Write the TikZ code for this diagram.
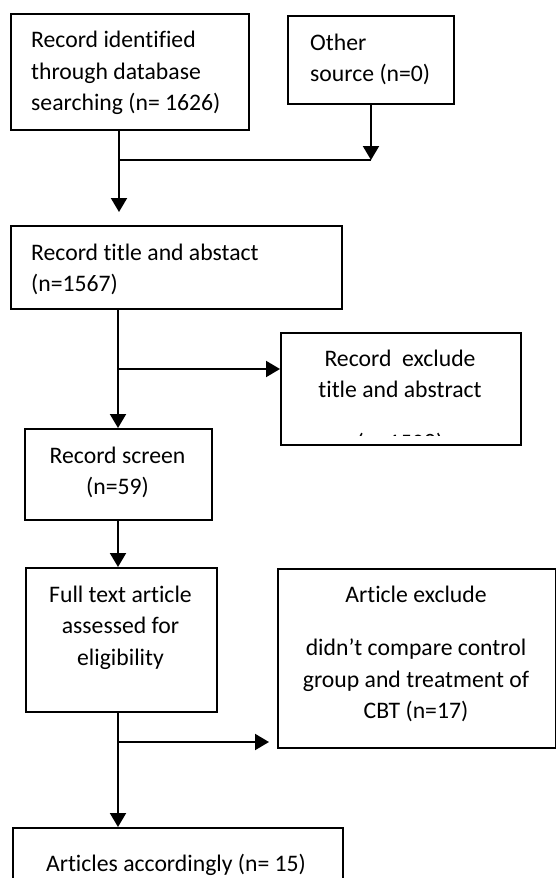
\documentclass[tikz,border=0pt]{standalone}
\usepackage{fontspec}
\setmainfont{Carlito}[Ligatures=NoCommon]
\usetikzlibrary{arrows.meta}

\begin{document}
\begin{tikzpicture}[
  x=1pt, y=-1pt,
  font=\fontsize{23.7}{31.5}\selectfont,
  box/.style={draw, line width=2pt, inner sep=0pt, anchor=north west},
  txt/.style={inner sep=0pt, anchor=base},
  txtl/.style={inner sep=0pt, anchor=base west},
  link/.style={line width=2pt},
  arr/.style={line width=2pt, -{Triangle[width=16pt,length=14pt]}}
]
\clip (0,0) rectangle (556,878);

% boxes
\node[box, minimum width=238pt, minimum height=116pt] (b1) at (10,13) {};
\node[box, minimum width=166pt, minimum height=88pt]  (b2) at (287,15) {};
\node[box, minimum width=331pt, minimum height=83pt]  (b3) at (10,225) {};
\node[box, minimum width=240pt, minimum height=112pt] (b4) at (280,332) {};
\node[box, minimum width=187pt, minimum height=91pt]  (b5) at (24,428) {};
\node[box, minimum width=191pt, minimum height=144pt] (b6) at (25,567) {};
\node[box, minimum width=278pt, minimum height=179pt] (b7) at (277,568) {};
\node[box, minimum width=330pt, minimum height=90pt]  (b8) at (12,827) {};

% texts
\node[txtl] (t1a) at (31,47)  {Record identified};
\node[txtl] (t1b) at (31,79)  {through database};
\node[txtl] (t1c) at (31,110) {searching (n= 1626)};

\node[txtl] (t2a) at (310,50) {Other};
\node[txtl] (t2b) at (310,81) {source (n=0)};

\node[txtl] (t3a) at (31,260) {Record title and abstact};
\node[txtl] (t3b) at (31,291) {(n=1567)};

\node[txt] (t4a) at (400,366) {Record\ \ exclude};
\node[txt] (t4b) at (400,397) {title and abstract};
% third line cut off by the box's text area
\begin{scope}
  \clip (280,432) rectangle (520,435);
  \node[txt] (t4c) at (400,450) {(n=1508)};
\end{scope}

\node[txt] (t5a) at (117.5,463) {Record screen};
\node[txt] (t5b) at (117.5,494) {(n=59)};

\node[txt] (t6a) at (120.5,602) {Full text article};
\node[txt] (t6b) at (120.5,633) {assessed for};
\node[txt] (t6c) at (120.5,665) {eligibility};

\node[txt] (t7a) at (416,602) {Article exclude};
\node[txt] (t7b) at (416,655) {didn’t compare control};
\node[txt] (t7c) at (416,687) {group and treatment of};
\node[txt] (t7d) at (416,718) {CBT (n=17)};

\node[txt] (t8a) at (176,871) {Articles accordingly (n= 15)};

% junctions on the main flow line
\coordinate (j1) at (119,160);
\coordinate (j2) at (118,369);
\coordinate (j3) at (118,742);

% connectors
\draw[arr] (b1.south -| j1) -- ([yshift=13pt]b3.north -| j1);
\draw[arr] (b2.south) -- (b2.south |- j1);
\draw[link] (b2.south |- j1) -- (j1);

\draw[arr] (b3.south -| j2) -- (b5.north -| j2);
\draw[arr] (j2) -- (b4.west |- j2);

\draw[arr] (b5.south -| j2) -- (b6.north -| j2);

\draw[arr] (b6.south -| j3) -- (b8.north -| j3);
\draw[arr] (j3) -- ([xshift=-8pt]b7.west |- j3);
\end{tikzpicture}
\end{document}
